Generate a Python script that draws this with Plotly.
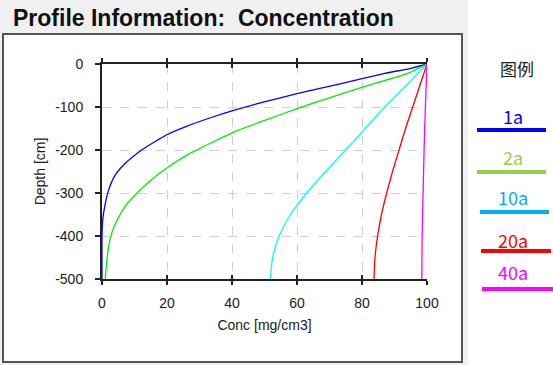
import plotly.graph_objects as go

# ---------------- data ----------------
series_names = ["1a", "2a", "10a", "20a", "40a"]

depth_1a = [0, 10, 22, 46, 69, 90, 108, 125, 145, 164, 178, 200, 215, 232, 259, 294, 333, 364, 400, 500]
conc_1a = [100, 95, 87, 73.3, 60, 49, 40.5, 33.4, 26, 20.1, 16.9, 12.2, 9.6, 7.0, 4.0, 2.0, 0.8, 0.2, 0.0, 0.0]

depth_2a = [0, 22, 53, 80, 104, 130, 154, 182, 209, 244, 275, 300, 325, 364, 391, 426, 473, 500]
conc_2a = [100, 94, 80.5, 69.5, 60, 50.5, 42, 34, 26.8, 19.5, 14.3, 10.8, 7.7, 4.6, 3.1, 2.0, 1.3, 1.0]

depth_10a = [0, 50, 100, 150, 200, 250, 300, 350, 400, 450, 500]
conc_10a = [100, 93.6, 87, 81, 75, 68.8, 63, 58, 54.5, 52.5, 51.8]

depth_20a = [0, 50, 100, 150, 200, 250, 300, 350, 400, 450, 500]
conc_20a = [100, 97.8, 95.6, 93.4, 91.4, 89.4, 87.6, 86, 84.8, 84, 83.7]

depth_40a = [0, 100, 200, 300, 400, 500]
conc_40a = [100, 99.5, 99.1, 98.8, 98.5, 98.4]

x_ticks = [0, 20, 40, 60, 80, 100]
y_ticks = [0, -100, -200, -300, -400, -500]

line_colors = ["#0000ff", "#00ee00", "#00ffff", "#ff0000", "#ff00ff"]
legend_colors = ["#0000ff", "#92d050", "#00b0f0", "#ff0000", "#ff00ff"]

# ---------------- figure ----------------
W, H = 553, 365
L, R, T, B = 102, 126, 64, 86
PW, PH = W - L - R, H - T - B


def px(xp):
    return (xp - L) / PW


def py(yp):
    return (H - B - yp) / PH


fig = go.Figure()
all_depths = [depth_1a, depth_2a, depth_10a, depth_20a, depth_40a]
all_concs = [conc_1a, conc_2a, conc_10a, conc_20a, conc_40a]
for name, d, c, col in zip(series_names, all_depths, all_concs, line_colors):
    fig.add_trace(go.Scatter(
        x=c, y=[-v for v in d], mode="lines", name=name,
        line=dict(color=col, width=1.3, shape="spline", smoothing=0.6), showlegend=False,
    ))

# invisible trace on overlaid axis for crossing ticks
fig.add_trace(go.Scatter(x=[0], y=[0], xaxis="x2", yaxis="y", mode="markers",
                         marker=dict(opacity=0), showlegend=False, hoverinfo="skip"))

font_tick = dict(family="Liberation Sans, Arial, sans-serif", size=14, color="#1a1a1a")

fig.update_layout(
    width=W, height=H,
    margin=dict(l=L, r=R, t=T, b=B, pad=0),
    paper_bgcolor="white",
    plot_bgcolor="white",
    xaxis=dict(
        range=[0, 100], tickvals=x_ticks, ticktext=[str(v) for v in x_ticks],
        showgrid=True, gridcolor="#cfcfcf", griddash="dash", gridwidth=1,
        zeroline=False, showline=True, linecolor="#222", linewidth=2,
        mirror="allticks", ticks="outside", ticklen=4, tickcolor="#222", tickwidth=2,
        tickfont=font_tick, ticklabelstandoff=6,
        title=dict(text="Conc [mg/cm3]", font=font_tick, standoff=10),
    ),
    xaxis2=dict(
        range=[0, 100], overlaying="x", tickvals=x_ticks, showgrid=False,
        zeroline=False, showline=False, showticklabels=False,
        ticks="inside", ticklen=4, tickcolor="#222", tickwidth=2, mirror="allticks",
        side="bottom",
    ),
    yaxis=dict(
        range=[-500, 0], tickvals=y_ticks, ticktext=[str(v) for v in y_ticks],
        showgrid=True, gridcolor="#cfcfcf", griddash="dash", gridwidth=1,
        zeroline=False, showline=True, linecolor="#222", linewidth=2,
        ticks="outside", ticklen=5, tickcolor="#222", tickwidth=2,
        tickfont=font_tick, ticklabelstandoff=9,
        title=dict(text="Depth [cm]", font=font_tick, standoff=6),
    ),
)

shapes = [
    # gray window background
    dict(type="rect", xref="paper", yref="paper", x0=px(0), x1=px(468), y0=py(365), y1=py(0),
         fillcolor="#f0f0f0", line=dict(width=0), layer="below"),
    # white framed box
    dict(type="rect", xref="paper", yref="paper", x0=px(3), x1=px(462), y0=py(362), y1=py(34),
         fillcolor="white", line=dict(color="#555555", width=2), layer="below"),
]

annotations = [
    dict(text="<b>Profile Information:  Concentration</b>", xref="paper", yref="paper",
         x=px(11), y=py(18), xanchor="left", yanchor="middle", showarrow=False,
         font=dict(family="Liberation Sans, Arial, sans-serif", size=23, color="#111")),
    dict(text="图例", xref="paper", yref="paper", x=px(517), y=py(68),
         xanchor="center", yanchor="middle", showarrow=False,
         font=dict(family="Noto Sans CJK SC", size=17, color="#222")),
]

label_y = [116, 157, 197, 240, 272]
line_y = [130, 172, 212, 251, 289]
line_x0 = [477, 477, 480, 481, 482]
line_x1 = [546, 546, 549, 551, 553]
for name, col, ly, ln, x0, x1 in zip(series_names, legend_colors, label_y, line_y, line_x0, line_x1):
    annotations.append(dict(text=name, xref="paper", yref="paper", x=px(513), y=py(ly),
                            xanchor="center", yanchor="middle", showarrow=False,
                            font=dict(family="Noto Sans CJK SC", size=18, color=col)))
    shapes.append(dict(type="line", xref="paper", yref="paper", x0=px(x0), x1=px(x1),
                       y0=py(ln), y1=py(ln), line=dict(color=col, width=4)))

fig.update_layout(shapes=shapes, annotations=annotations)

fig.write_html(
    "out.html",
    config={"displayModeBar": False},
    post_script="document.body.style.margin='0';document.body.style.padding='0';"
                "document.body.style.overflow='hidden';",
)
